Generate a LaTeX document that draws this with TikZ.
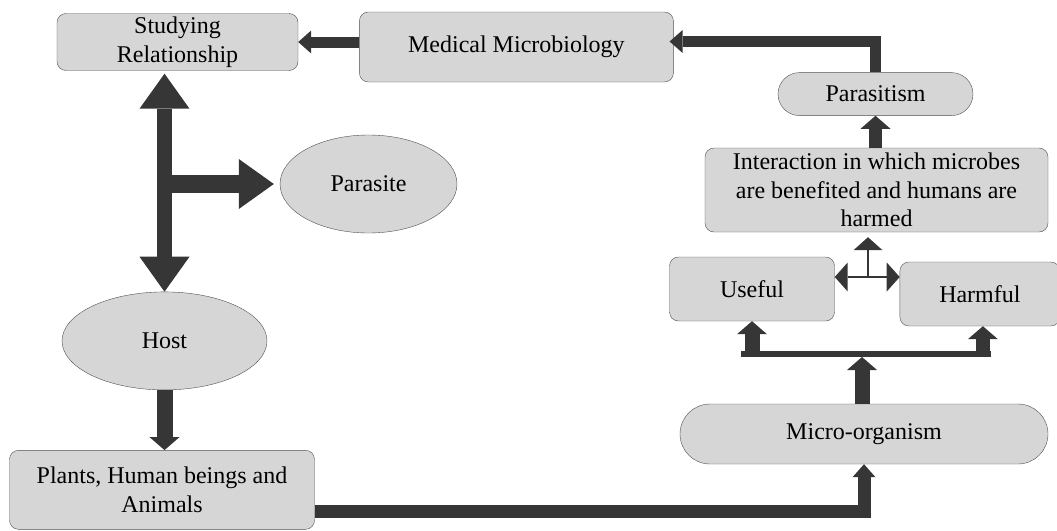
\documentclass[tikz,border=0pt]{standalone}
\usepackage{fontspec}
\setmainfont{Liberation Serif}
\usepackage{xcolor}
\usetikzlibrary{shapes,arrows.meta,positioning,calc}

\definecolor{boxfill}{HTML}{D6D6D6}
\definecolor{boxline}{HTML}{505050}
\definecolor{arrowfill}{HTML}{363636}

\begin{document}
\begin{tikzpicture}[
    x=1pt, y=-1pt,
    font=\fontsize{24pt}{28.5pt}\selectfont,
    box/.style={draw=boxline, fill=boxfill, rounded corners=9pt, align=center, inner sep=0pt},
    pill/.style={draw=boxline, fill=boxfill, rounded rectangle, align=center, inner sep=0pt},
    oval/.style={draw=boxline, fill=boxfill, ellipse, align=center, inner sep=0pt},
    fat/.style={draw=arrowfill, line width=#1, line join=miter},
    thinarrow/.style={draw=arrowfill, line width=1.3pt},
    smallhead/.tip={Triangle[width=23pt, length=13pt, line width=0pt]},
    midhead/.tip={Triangle[width=30pt, length=13pt, line width=0pt]},
    bighead/.tip={Triangle[width=50pt, length=35pt, line width=0pt]},
    thinhead/.tip={Triangle[width=29pt, length=13pt, line width=0pt]},
]
    \useasboundingbox (0,0) rectangle (1057,530);

    % Left side
    \node[box, minimum width=241pt, minimum height=57pt] (studying) at (177.5,42) {Studying\\Relationship};
    \node[box, minimum width=314pt, minimum height=70pt, right=61pt of studying, yshift=-5pt] (medical) {Medical Microbiology};
    \node[oval, minimum width=177pt, minimum height=98pt] (parasite) at (368.5,184) {Parasite};
    \node[oval, minimum width=205pt, minimum height=98pt, below=221pt of studying, xshift=-13pt] (host) {Host};
    \node[box, minimum width=305pt, minimum height=79pt, below=60pt of host, xshift=-2.5pt] (plants) {Plants, Human beings and\\Animals};

    % Right side
    \node[box, minimum width=343pt, minimum height=84pt] (interaction) at (876.5,190) {Interaction in which microbes\\are benefited and humans are\\harmed};
    \node[pill, minimum width=195pt, minimum height=43pt, above=32pt of interaction, xshift=-1pt] (parasitism) {Parasitism};
    \node[box, minimum width=165pt, minimum height=64pt] (useful) at (752,289) {Useful};
    \node[box, minimum width=160pt, minimum height=64pt, right=65pt of useful, yshift=-5pt] (harmful) {Harmful};
    \node[pill, minimum width=368pt, minimum height=60pt] (micro) at (864,434) {Micro-organism};

    \coordinate (fork) at (868,277);
    \coordinate (bar) at (862,354);

    % Top row
    \draw[fat=11pt, -smallhead] (medical.west |- studying) -- (studying.east);
    \draw[fat=11pt, -smallhead, shorten >=-4pt] (parasitism.north) |- ([yshift=5.5pt]medical.east);
    \draw[fat=13pt, -midhead] (interaction.north -| parasitism) -- (parasitism.south);

    % Useful / Harmful
    \draw[thinarrow, thinhead-thinhead] (useful.east |- fork) -- (harmful.west |- fork);
    \draw[thinarrow, -thinhead, shorten >=5pt] (fork) -- (fork |- interaction.south);
    \draw[fat=6pt] ($(bar -| useful.south)+(-11,0)$) -- ($(bar -| harmful.south)+(11,0)$);
    \draw[fat=15pt, -midhead] ($(bar -| useful.south)+(0,3)$) -- (useful.south);
    \draw[fat=14pt, -midhead] ($(bar -| harmful.south)+(3,3)$) -- ([xshift=3pt]harmful.south);
    \draw[fat=15pt, -midhead] (micro.north -| bar) -- ($(bar)+(0,3)$);

    % Host branch
    \draw[fat=15pt, bighead-bighead, shorten >=3pt] (host.north) -- (host.north |- studying.south);
    \draw[fat=18pt, -bighead, shorten >=6pt] (host.north |- parasite.west) -- (parasite.west);
    \draw[fat=16pt, -midhead] (host.south) -- (plants.north -| host.south);
    \draw[fat=13pt, -smallhead] ([yshift=-22pt]plants.east) -| (micro.south);
\end{tikzpicture}
\end{document}
